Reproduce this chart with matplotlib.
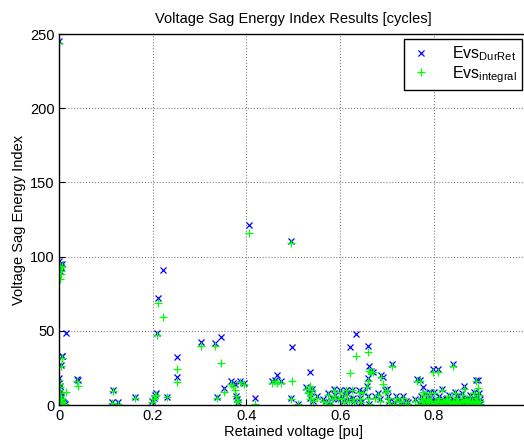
import matplotlib
matplotlib.use('Agg')
import matplotlib.pyplot as plt

plt.rcParams['font.family'] = ['Liberation Sans', 'DejaVu Sans']
plt.rcParams['mathtext.fontset'] = 'custom'
plt.rcParams['mathtext.rm'] = 'Liberation Sans'

# retained voltage [pu] and energy index for both methods
volt = [0.001, 0.001, 0.002, 0.003, 0.004, 0.005, 0.002, 0.006,
        0.000, 0.001, 0.002, 0.001, 0.003, 0.002, 0.004, 0.005, 0.003, 0.006,
        0.008, 0.010, 0.012, 0.004, 0.006, 0.007, 0.015,
        0.039, 0.040, 0.115, 0.113, 0.127, 0.163,
        0.198, 0.202, 0.205, 0.208, 0.211, 0.221, 0.210, 0.230,
        0.2525, 0.2525, 0.304, 0.332, 0.346, 0.337, 0.353,
        0.367, 0.372, 0.375, 0.378, 0.381, 0.383, 0.386, 0.395,
        0.406, 0.418, 0.454, 0.462, 0.466, 0.474,
        0.4945, 0.497, 0.495, 0.510,
        0.527, 0.532, 0.535, 0.537, 0.540, 0.535, 0.542, 0.550,
        0.563, 0.570, 0.575, 0.578, 0.582, 0.587, 0.590, 0.595, 0.600, 0.605,
        0.608, 0.612, 0.615, 0.618, 0.621, 0.625, 0.628, 0.630, 0.635, 0.640,
        0.642, 0.645, 0.648,
        0.660, 0.662, 0.665, 0.660, 0.658, 0.660, 0.662, 0.670, 0.675, 0.680,
        0.685, 0.688, 0.692, 0.695, 0.700, 0.702, 0.705, 0.711, 0.715, 0.720,
        0.725, 0.730, 0.735, 0.740, 0.745,
        0.760, 0.765, 0.770, 0.772, 0.775, 0.778, 0.780, 0.782, 0.785, 0.788,
        0.790, 0.792, 0.795, 0.799, 0.800, 0.802, 0.805, 0.808, 0.810, 0.812,
        0.815, 0.818, 0.820, 0.822, 0.825, 0.828, 0.830, 0.832, 0.835, 0.838,
        0.840, 0.842, 0.845, 0.848, 0.850, 0.852, 0.855, 0.858, 0.860, 0.862,
        0.865, 0.868, 0.870, 0.872, 0.875, 0.878, 0.880, 0.882, 0.885, 0.888,
        0.890, 0.892, 0.893, 0.895, 0.896, 0.897, 0.898, 0.899,
        0.768, 0.776, 0.784, 0.794, 0.803, 0.813, 0.823, 0.833, 0.843, 0.853,
        0.863, 0.873, 0.883, 0.891, 0.894, 0.787, 0.807, 0.827, 0.847, 0.867,
        0.887, 0.817, 0.837, 0.857, 0.877]

evs_durret = [245, 97, 95, 94, 93, 92, 90, 95,
              18, 15, 13, 11, 9, 7, 6, 5, 4, 3,
              2, 1.5, 1, 27, 33, 33, 48.5,
              17.5, 17, 10, 2, 2, 5.5,
              3, 5, 7, 8, 72, 91, 48.5, 5.5,
              32.6, 19, 42.5, 42, 45.5, 5.5, 11.5,
              16.5, 15, 14, 6, 4, 2, 16.5, 15,
              121, 5, 16, 17, 20, 16,
              110.5, 39.3, 4.5, 0.5,
              12, 10, 22, 9, 11, 5, 3, 6,
              4, 3, 8, 1, 5, 11, 7, 4, 10, 6,
              3, 10, 8, 4, 39, 10, 5, 3, 47.6, 10,
              5, 2, 9,
              39.8, 26, 23, 18, 13, 6, 1, 22, 6, 8,
              4, 20, 19, 10, 11, 6, 3, 27.4, 2, 6,
              4, 1, 6, 3, 2,
              4, 17.4, 17, 6, 3, 12, 2, 8, 5, 1,
              3, 9, 2, 24, 9, 4, 1, 24, 3, 6,
              2, 11, 4, 1, 3, 5, 2, 7, 3, 1,
              27.6, 4, 9, 2, 6, 3, 1, 4, 8, 2,
              12.5, 3, 5, 1, 3, 7, 2, 4, 9, 1,
              17, 6, 3, 17, 1, 8, 4, 2,
              1.5, 2.5, 1.5, 3, 2, 1.5, 2.5, 1.5, 2, 1.5,
              2.5, 1.5, 2, 3, 1.5, 4, 3, 4, 3, 4,
              3, 1, 1.5, 1, 1.5]

evs_integral = [244, 93, 94, 92, 90, 88, 85, 94,
                17, 14, 12, 10, 8, 6, 5, 4, 3, 2,
                1, 1, 0.5, 26, 32, 32, 9,
                16.5, 12.5, 9.5, 1.5, 1, 5,
                2, 4, 6, 7, 69, 59.5, 47, 5.5,
                24, 15.7, 40, 40, 28, 5, 9,
                14, 13, 10, 6, 3, 2, 15.5, 14,
                116, 1, 15, 16, 15, 15,
                109, 16, 4, 0.5,
                11, 8, 13, 7, 10, 4, 3, 5,
                3, 2, 7, 0.5, 4, 10, 6, 4, 9, 5,
                2, 10, 7, 3, 21.8, 10, 4, 2, 32.7, 9,
                4, 2, 8,
                36, 23, 22, 16, 12, 5, 0.5, 22, 5, 7,
                3, 19, 14, 9, 10, 5, 2, 26, 1, 5,
                3, 0.5, 5, 2, 1,
                3, 16.5, 16, 5, 2, 9, 1, 7, 4, 0.5,
                2, 8, 1, 22, 8, 3, 0.5, 22, 2, 5,
                1, 10, 3, 0.5, 2, 4, 1, 6, 2, 0.5,
                26, 3, 8, 1, 5, 2, 0.5, 3, 7, 1,
                11, 2, 4, 0.5, 2, 6, 1, 3, 8, 0.5,
                16, 5, 2, 11.7, 0.5, 7, 3, 1,
                1, 2, 1, 2.5, 1.5, 1, 2, 1, 1.5, 1,
                2, 1, 1.5, 2.5, 1, 3.5, 2.5, 3.5, 2.5, 3.5,
                2.5, 0.5, 1, 0.5, 1]

fig = plt.figure(figsize=(5.24, 4.44), dpi=100)
ax = fig.add_axes([59 / 524, 39 / 444, 468.5 / 524, 371 / 444])

ax.plot(volt, evs_durret, 'x', color='#0000ff', markersize=3.8, markeredgewidth=0.9,
        label=r'Evs$_{\mathrm{DurRet}}$')
ax.plot(volt, evs_integral, '+', color='#00ff00', markersize=5.2, markeredgewidth=0.9,
        label=r'Evs$_{\mathrm{integral}}$')

ax.set_xlim(0, 1)
ax.set_ylim(0, 250)
ax.set_xticks([0, 0.2, 0.4, 0.6, 0.8, 1])
ax.set_xticklabels(['0', '0.2', '0.4', '0.6', '0.8', ''])
ax.set_yticks([0, 50, 100, 150, 200, 250])
ax.tick_params(direction='in', labelsize=10.5, length=4, width=0.8, pad=3)
ax.grid(True, linestyle=':', color='#808080', linewidth=0.8)
for sp in ax.spines.values():
    sp.set_linewidth(1.0)

ax.set_title('Voltage Sag Energy Index Results [cycles]', fontsize=10.5, pad=8)
ax.set_xlabel('Retained voltage [pu]', fontsize=10.5, labelpad=1)
ax.set_ylabel('Voltage Sag Energy Index', fontsize=10.5, labelpad=3)

leg = ax.legend(loc='upper right', bbox_to_anchor=(522 / 524, 1 - 39 / 444),
                bbox_transform=fig.transFigure, borderaxespad=0, fancybox=False,
                framealpha=1, edgecolor='black', fontsize=11.5, handlelength=1.4,
                handletextpad=1.2, borderpad=0.35, labelspacing=0.05)
leg.get_frame().set_linewidth(1.0)

fig.savefig('out.png', dpi=100)
